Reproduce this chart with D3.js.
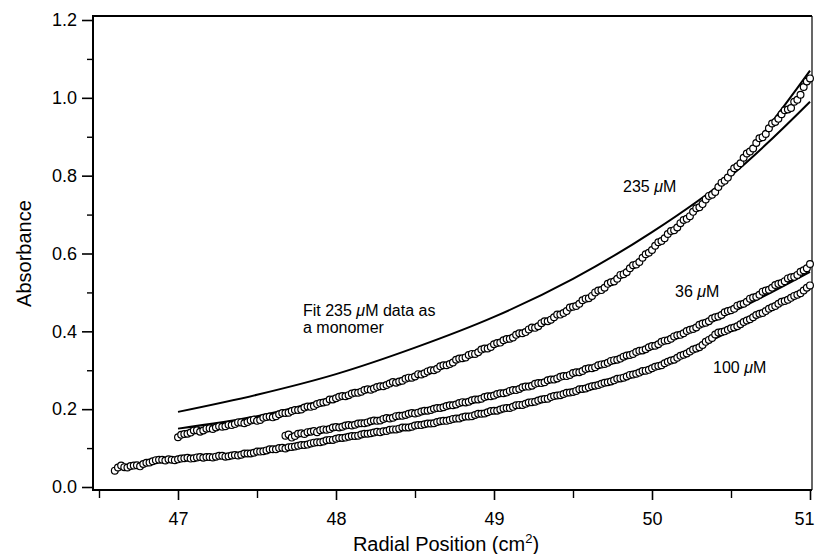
<!DOCTYPE html>
<html>
<head>
<meta charset="utf-8">
<script src="https://cdn.jsdelivr.net/npm/d3@7"></script>
<style>
  body { margin: 0; background: #fff; }
  svg { display: block; font-family: "Liberation Sans", Arial, sans-serif; }
</style>
</head>
<body>
<div id="chart"></div>
<script>
// Absorbance scans, [radial position, absorbance]
const data235 = [
  [47.00,0.128],[47.02,0.134],[47.04,0.136],[47.06,0.137],[47.08,0.140],[47.10,0.145],[47.12,0.146],[47.14,0.142],[47.16,0.145],[47.18,0.150],
  [47.20,0.151],[47.22,0.149],[47.24,0.153],[47.26,0.156],[47.28,0.155],[47.30,0.156],[47.32,0.160],[47.34,0.159],[47.36,0.162],[47.38,0.166],
  [47.40,0.166],[47.42,0.164],[47.44,0.167],[47.46,0.171],[47.48,0.173],[47.50,0.170],[47.52,0.172],[47.54,0.178],[47.56,0.180],[47.58,0.181],
  [47.60,0.179],[47.62,0.182],[47.64,0.187],[47.66,0.190],[47.68,0.190],[47.70,0.191],[47.72,0.195],[47.74,0.198],[47.76,0.198],[47.78,0.199],
  [47.80,0.204],[47.82,0.207],[47.84,0.206],[47.86,0.208],[47.88,0.213],[47.90,0.216],[47.92,0.217],[47.94,0.219],[47.96,0.225],[47.98,0.225],
  [48.00,0.228],[48.02,0.232],[48.04,0.234],[48.06,0.233],[48.08,0.236],[48.10,0.240],[48.12,0.242],[48.14,0.242],[48.16,0.245],[48.18,0.249],
  [48.20,0.251],[48.22,0.250],[48.24,0.253],[48.26,0.257],[48.28,0.259],[48.30,0.259],[48.32,0.262],[48.34,0.266],[48.36,0.270],[48.38,0.268],
  [48.40,0.271],[48.42,0.273],[48.44,0.278],[48.46,0.281],[48.48,0.281],[48.50,0.284],[48.52,0.290],[48.54,0.289],[48.56,0.292],[48.58,0.297],
  [48.60,0.300],[48.62,0.300],[48.64,0.304],[48.66,0.310],[48.68,0.313],[48.70,0.313],[48.72,0.316],[48.74,0.320],[48.76,0.327],[48.78,0.330],
  [48.80,0.331],[48.82,0.333],[48.84,0.339],[48.86,0.342],[48.88,0.342],[48.90,0.346],[48.92,0.353],[48.94,0.356],[48.96,0.356],[48.98,0.360],
  [49.00,0.367],[49.02,0.370],[49.04,0.371],[49.06,0.377],[49.08,0.380],[49.10,0.381],[49.12,0.384],[49.14,0.391],[49.16,0.395],[49.18,0.395],
  [49.20,0.398],[49.22,0.405],[49.24,0.410],[49.26,0.409],[49.28,0.413],[49.30,0.421],[49.32,0.426],[49.34,0.426],[49.36,0.430],[49.38,0.436],
  [49.40,0.443],[49.42,0.443],[49.44,0.447],[49.46,0.452],[49.48,0.461],[49.50,0.463],[49.52,0.465],[49.54,0.471],[49.56,0.480],[49.58,0.484],
  [49.60,0.485],[49.62,0.491],[49.64,0.500],[49.66,0.505],[49.68,0.506],[49.70,0.512],[49.72,0.522],[49.74,0.526],[49.76,0.528],[49.78,0.535],
  [49.80,0.545],[49.82,0.547],[49.84,0.552],[49.86,0.562],[49.88,0.570],[49.90,0.572],[49.92,0.578],[49.94,0.589],[49.96,0.598],[49.98,0.602],
  [50.00,0.609],[50.02,0.620],[50.04,0.629],[50.06,0.632],[50.08,0.639],[50.10,0.650],[50.12,0.658],[50.14,0.660],[50.16,0.667],[50.18,0.678],
  [50.20,0.686],[50.22,0.689],[50.24,0.696],[50.26,0.707],[50.28,0.716],[50.30,0.719],[50.32,0.727],[50.34,0.739],[50.36,0.748],[50.38,0.751],
  [50.40,0.758],[50.42,0.771],[50.44,0.782],[50.46,0.787],[50.48,0.795],[50.50,0.808],[50.52,0.819],[50.54,0.824],[50.56,0.832],[50.58,0.846],
  [50.60,0.857],[50.62,0.862],[50.64,0.870],[50.66,0.884],[50.68,0.896],[50.70,0.899],[50.72,0.907],[50.74,0.922],[50.76,0.934],[50.78,0.938],
  [50.80,0.946],[50.82,0.958],[50.84,0.968],[50.86,0.970],[50.88,0.974],[50.90,0.990],[50.92,0.995],[50.94,1.008],[50.96,1.028],[50.98,1.042],
  [51.00,1.050]
];

const data36 = [
  [47.68,0.132],[47.70,0.135],[47.72,0.127],[47.74,0.131],[47.76,0.137],[47.78,0.138],[47.80,0.136],[47.82,0.141],[47.84,0.142],[47.86,0.144],
  [47.88,0.141],[47.90,0.146],[47.92,0.148],[47.94,0.147],[47.96,0.149],[47.98,0.153],[48.00,0.154],[48.02,0.153],[48.04,0.155],[48.06,0.158],
  [48.08,0.159],[48.10,0.158],[48.12,0.160],[48.14,0.163],[48.16,0.164],[48.18,0.164],[48.20,0.166],[48.22,0.169],[48.24,0.171],[48.26,0.170],
  [48.28,0.171],[48.30,0.175],[48.32,0.177],[48.34,0.176],[48.36,0.178],[48.38,0.182],[48.40,0.183],[48.42,0.183],[48.44,0.185],[48.46,0.188],
  [48.48,0.190],[48.50,0.189],[48.52,0.191],[48.54,0.194],[48.56,0.196],[48.58,0.196],[48.60,0.198],[48.62,0.201],[48.64,0.203],[48.66,0.203],
  [48.68,0.205],[48.70,0.208],[48.72,0.210],[48.74,0.210],[48.76,0.212],[48.78,0.216],[48.80,0.218],[48.82,0.217],[48.84,0.219],[48.86,0.223],
  [48.88,0.225],[48.90,0.225],[48.92,0.227],[48.94,0.231],[48.96,0.233],[48.98,0.233],[49.00,0.235],[49.02,0.239],[49.04,0.241],[49.06,0.241],
  [49.08,0.243],[49.10,0.247],[49.12,0.249],[49.14,0.249],[49.16,0.252],[49.18,0.256],[49.20,0.258],[49.22,0.258],[49.24,0.260],[49.26,0.265],
  [49.28,0.267],[49.30,0.267],[49.32,0.269],[49.34,0.274],[49.36,0.276],[49.38,0.276],[49.40,0.279],[49.42,0.283],[49.44,0.285],[49.46,0.285],
  [49.48,0.288],[49.50,0.293],[49.52,0.295],[49.54,0.295],[49.56,0.298],[49.58,0.303],[49.60,0.305],[49.62,0.305],[49.64,0.308],[49.66,0.313],
  [49.68,0.315],[49.70,0.316],[49.72,0.319],[49.74,0.324],[49.76,0.326],[49.78,0.327],[49.80,0.330],[49.82,0.335],[49.84,0.338],[49.86,0.339],
  [49.88,0.342],[49.90,0.347],[49.92,0.350],[49.94,0.351],[49.96,0.354],[49.98,0.359],[50.00,0.362],[50.02,0.363],[50.04,0.367],[50.06,0.373],
  [50.08,0.376],[50.10,0.377],[50.12,0.381],[50.14,0.387],[50.16,0.390],[50.18,0.391],[50.20,0.395],[50.22,0.401],[50.24,0.404],[50.26,0.406],
  [50.28,0.410],[50.30,0.417],[50.32,0.420],[50.34,0.422],[50.36,0.426],[50.38,0.433],[50.40,0.436],[50.42,0.438],[50.44,0.442],[50.46,0.449],
  [50.48,0.452],[50.50,0.454],[50.52,0.458],[50.54,0.466],[50.56,0.469],[50.58,0.471],[50.60,0.476],[50.62,0.484],[50.64,0.487],[50.66,0.489],
  [50.68,0.494],[50.70,0.502],[50.72,0.505],[50.74,0.507],[50.76,0.512],[50.78,0.519],[50.80,0.522],[50.82,0.524],[50.84,0.529],[50.86,0.536],
  [50.88,0.539],[50.90,0.540],[50.92,0.545],[50.94,0.553],[50.96,0.557],[50.98,0.562],[51.00,0.573]
];

const data100 = [
  [46.60,0.042],[46.62,0.050],[46.64,0.055],[46.66,0.051],[46.68,0.050],[46.70,0.054],[46.72,0.055],[46.74,0.056],[46.76,0.053],[46.78,0.059],
  [46.80,0.062],[46.82,0.063],[46.84,0.066],[46.86,0.069],[46.88,0.070],[46.90,0.070],[46.92,0.068],[46.94,0.071],[46.96,0.070],[46.98,0.069],
  [47.00,0.071],[47.02,0.073],[47.04,0.074],[47.06,0.075],[47.08,0.073],[47.10,0.074],[47.12,0.076],[47.14,0.077],[47.16,0.075],[47.18,0.077],
  [47.20,0.077],[47.22,0.076],[47.24,0.078],[47.26,0.080],[47.28,0.080],[47.30,0.078],[47.32,0.079],[47.34,0.081],[47.36,0.082],[47.38,0.081],
  [47.40,0.083],[47.42,0.086],[47.44,0.086],[47.46,0.086],[47.48,0.088],[47.50,0.091],[47.52,0.091],[47.54,0.092],[47.56,0.094],[47.58,0.097],
  [47.60,0.097],[47.62,0.097],[47.64,0.100],[47.66,0.101],[47.68,0.099],[47.70,0.102],[47.72,0.103],[47.74,0.104],[47.76,0.106],[47.78,0.108],
  [47.80,0.108],[47.82,0.109],[47.84,0.112],[47.86,0.114],[47.88,0.115],[47.90,0.115],[47.92,0.117],[47.94,0.120],[47.96,0.121],[47.98,0.121],
  [48.00,0.124],[48.02,0.126],[48.04,0.126],[48.06,0.127],[48.08,0.129],[48.10,0.131],[48.12,0.131],[48.14,0.132],[48.16,0.135],[48.18,0.137],
  [48.20,0.137],[48.22,0.138],[48.24,0.140],[48.26,0.142],[48.28,0.141],[48.30,0.143],[48.32,0.144],[48.34,0.147],[48.36,0.148],[48.38,0.148],
  [48.40,0.150],[48.42,0.153],[48.44,0.153],[48.46,0.153],[48.48,0.155],[48.50,0.158],[48.52,0.159],[48.54,0.159],[48.56,0.161],[48.58,0.163],
  [48.60,0.163],[48.62,0.164],[48.64,0.167],[48.66,0.169],[48.68,0.170],[48.70,0.170],[48.72,0.172],[48.74,0.175],[48.76,0.176],[48.78,0.176],
  [48.80,0.179],[48.82,0.181],[48.84,0.181],[48.86,0.182],[48.88,0.185],[48.90,0.188],[48.92,0.188],[48.94,0.189],[48.96,0.192],[48.98,0.195],
  [49.00,0.196],[49.02,0.196],[49.04,0.199],[49.06,0.202],[49.08,0.203],[49.10,0.203],[49.12,0.206],[49.14,0.210],[49.16,0.211],[49.18,0.211],
  [49.20,0.214],[49.22,0.217],[49.24,0.218],[49.26,0.219],[49.28,0.222],[49.30,0.225],[49.32,0.226],[49.34,0.227],[49.36,0.231],[49.38,0.234],
  [49.40,0.235],[49.42,0.236],[49.44,0.239],[49.46,0.242],[49.48,0.243],[49.50,0.244],[49.52,0.247],[49.54,0.251],[49.56,0.252],[49.58,0.253],
  [49.60,0.256],[49.62,0.259],[49.64,0.260],[49.66,0.262],[49.68,0.265],[49.70,0.268],[49.72,0.269],[49.74,0.271],[49.76,0.274],[49.78,0.278],
  [49.80,0.279],[49.82,0.281],[49.84,0.284],[49.86,0.288],[49.88,0.289],[49.90,0.291],[49.92,0.294],[49.94,0.298],[49.96,0.299],[49.98,0.301],
  [50.00,0.305],[50.02,0.309],[50.04,0.311],[50.06,0.313],[50.08,0.318],[50.10,0.322],[50.12,0.325],[50.14,0.327],[50.16,0.332],[50.18,0.337],
  [50.20,0.340],[50.22,0.343],[50.24,0.348],[50.26,0.353],[50.28,0.356],[50.30,0.359],[50.32,0.365],[50.34,0.373],[50.36,0.378],[50.38,0.383],
  [50.40,0.392],[50.42,0.397],[50.44,0.398],[50.46,0.400],[50.48,0.404],[50.50,0.408],[50.52,0.410],[50.54,0.413],[50.56,0.418],[50.58,0.424],
  [50.60,0.428],[50.62,0.431],[50.64,0.436],[50.66,0.442],[50.68,0.445],[50.70,0.447],[50.72,0.452],[50.74,0.458],[50.76,0.462],[50.78,0.465],
  [50.80,0.471],[50.82,0.476],[50.84,0.478],[50.86,0.481],[50.88,0.486],[50.90,0.491],[50.92,0.494],[50.94,0.498],[50.96,0.505],[50.98,0.512],
  [51.00,0.518]
];

// Fitted curves
const fit235 = [[47.0,0.150],[47.5,0.182],[48.0,0.232],[48.5,0.289],[49.0,0.367],[49.5,0.466],[50.0,0.612],[50.5,0.808],[51.0,1.070]];
const fitMonomer = [[47.0,0.193],[47.5,0.237],[48.0,0.290],[48.5,0.358],[49.0,0.437],[49.5,0.535],[50.0,0.655],[50.5,0.800],[51.0,0.990]];
const fit36 = [[47.68,0.132],[48.0,0.153],[48.5,0.190],[49.0,0.236],[49.5,0.292],[50.0,0.360],[50.5,0.448],[51.0,0.553]];
const fit100 = [[46.6,0.050],[47.0,0.070],[47.5,0.090],[48.0,0.123],[48.5,0.157],[49.0,0.197],[49.5,0.245],[50.0,0.305],[50.5,0.402],[51.0,0.510]];

const xTicks = [47, 48, 49, 50, 51];
const xMinor = [46.5, 47.5, 48.5, 49.5, 50.5];
const yTicks = [0, 0.2, 0.4, 0.6, 0.8, 1.0, 1.2];
const yMinor = [0.1, 0.3, 0.5, 0.7, 0.9, 1.1];

const width = 815, height = 554;
const frame = { left: 93, right: 812, top: 16, bottom: 490 };

const svg = d3.select("#chart").append("svg")
  .attr("width", width)
  .attr("height", height);

const x = d3.scaleLinear().domain([47, 51]).range([178, 810]);
const y = d3.scaleLinear().domain([0, 1.2]).range([487, 20]);

// Y axis
svg.append("g")
  .attr("transform", `translate(${frame.left},0)`)
  .call(d3.axisLeft(y).tickValues(yTicks).tickFormat(d3.format(".1f")).tickSize(11).tickSizeOuter(0))
  .call(g => g.select(".domain").remove())
  .call(g => g.selectAll("line").attr("stroke-width", 1.6))
  .call(g => g.selectAll("text").attr("font-size", 18).attr("fill", "#000").attr("x", -16));

svg.append("g")
  .attr("transform", `translate(${frame.left},0)`)
  .call(d3.axisLeft(y).tickValues(yMinor).tickFormat("").tickSize(6).tickSizeOuter(0))
  .call(g => g.select(".domain").remove())
  .call(g => g.selectAll("line").attr("stroke-width", 1.4));

// X axis (last label pulled in so it stays inside the page)
svg.append("g")
  .attr("transform", `translate(0,${frame.bottom})`)
  .call(d3.axisBottom(x).tickValues(xTicks).tickFormat(d3.format("d")).tickSize(10).tickSizeOuter(0))
  .call(g => g.select(".domain").remove())
  .call(g => g.selectAll("line").attr("stroke-width", 1.6))
  .call(g => g.selectAll("text").attr("font-size", 18).attr("fill", "#000").attr("y", 22)
    .attr("dx", d => d === 51 ? -6 : 0));

svg.append("g")
  .attr("transform", `translate(0,${frame.bottom})`)
  .call(d3.axisBottom(x).tickValues(xMinor).tickFormat("").tickSize(8).tickSizeOuter(0))
  .call(g => g.select(".domain").remove())
  .call(g => g.selectAll("line").attr("stroke-width", 1.4));

// Frame
svg.append("path")
  .attr("d", `M${frame.left},${frame.bottom}V${frame.top}H${frame.right}`)
  .attr("fill", "none").attr("stroke", "#000").attr("stroke-width", 2);
svg.append("line")
  .attr("x1", frame.right).attr("x2", frame.right)
  .attr("y1", frame.top).attr("y2", frame.bottom)
  .attr("stroke", "#000").attr("stroke-width", 1.2);
svg.append("line")
  .attr("x1", frame.left - 1).attr("x2", frame.right)
  .attr("y1", frame.bottom).attr("y2", frame.bottom)
  .attr("stroke", "#000").attr("stroke-width", 2);

// Axis titles
svg.append("text")
  .attr("transform", `translate(31,${y(0.6)}) rotate(-90)`)
  .attr("text-anchor", "middle")
  .attr("font-size", 20)
  .text("Absorbance");

const xTitle = svg.append("text")
  .attr("x", 446)
  .attr("y", 551)
  .attr("text-anchor", "middle")
  .attr("font-size", 20);
xTitle.append("tspan").text("Radial Position (cm");
xTitle.append("tspan").attr("font-size", 13).attr("dy", -8).text("2");
xTitle.append("tspan").attr("dy", 8).text(")");

// Fit lines
const line = d3.line()
  .x(d => x(d[0]))
  .y(d => y(d[1]))
  .curve(d3.curveCatmullRom.alpha(0.5));

[fitMonomer, fit100, fit36, fit235].forEach(f => {
  svg.append("path")
    .datum(f)
    .attr("d", line)
    .attr("fill", "none")
    .attr("stroke", "#000")
    .attr("stroke-width", 2);
});

// Data circles
[data100, data36, data235].forEach(series => {
  svg.append("g")
    .selectAll("circle")
    .data(series)
    .enter()
    .append("circle")
    .attr("cx", d => x(d[0]))
    .attr("cy", d => y(d[1]))
    .attr("r", 3.4)
    .attr("fill", "#fff")
    .attr("stroke", "#000")
    .attr("stroke-width", 1.2);
});

// Annotations
function label(px, py, parts) {
  const t = svg.append("text").attr("x", px).attr("y", py).attr("font-size", 16);
  parts.forEach(p => {
    const s = t.append("tspan").text(p.text);
    if (p.italic) s.attr("font-style", "italic");
  });
  return t;
}

label(623, 192, [{ text: "235 " }, { text: "\u03bc", italic: true }, { text: "M" }]);
label(675, 297, [{ text: "36 " }, { text: "\u03bc", italic: true }, { text: "M" }]);
label(713, 373, [{ text: "100 " }, { text: "\u03bc", italic: true }, { text: "M" }]);
label(303, 316, [{ text: "Fit 235 " }, { text: "\u03bc", italic: true }, { text: "M data as" }]);
label(303, 333, [{ text: "a monomer" }]);
</script>
</body>
</html>
